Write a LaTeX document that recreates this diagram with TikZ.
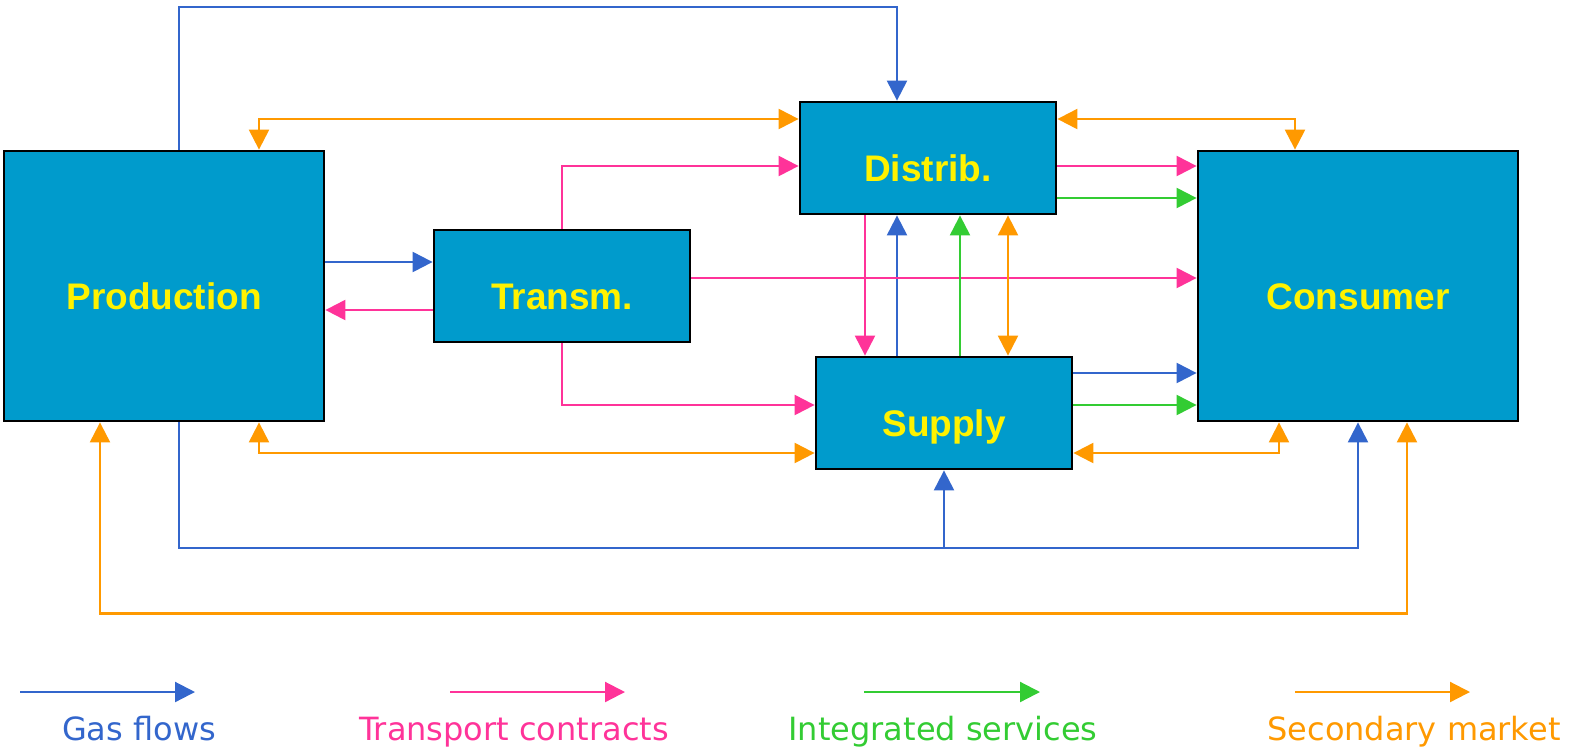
\documentclass[tikz,border=0pt]{standalone}
\usepackage{fontspec}
\setmainfont{Liberation Sans}
\newfontfamily\legendfont{DejaVu Sans}
\usetikzlibrary{arrows.meta,calc,positioning}

\definecolor{boxblue}{RGB}{0,155,204}
\definecolor{gasblue}{RGB}{51,102,204}
\definecolor{transpink}{RGB}{255,51,153}
\definecolor{integgreen}{RGB}{51,204,51}
\definecolor{mktorange}{RGB}{255,153,0}

\begin{document}
\begin{tikzpicture}[x=0.5pt, y=-0.5pt,
  box/.style={draw, rectangle, line width=1.4pt, fill=boxblue, text=yellow,
    font=\fontsize{18.5}{22}\selectfont\bfseries, text height=23.2pt, text depth=0pt, inner sep=0pt},
  bigbox/.style={box, minimum width=160pt, minimum height=135pt},
  smallbox/.style={box, minimum width=128pt, minimum height=56pt},
  flow/.style={line width=1.1pt, -{Triangle[length=10pt,width=10pt]}},
  gas/.style={flow, color=gasblue},
  trans/.style={flow, color=transpink},
  integ/.style={flow, color=integgreen},
  market/.style={line width=1.1pt, color=mktorange,
    {Triangle[length=10pt,width=10pt]}-{Triangle[length=10pt,width=10pt]}},
  legend/.style={font=\legendfont\fontsize{16}{19}\selectfont, anchor=base}]
\useasboundingbox (0,0) rectangle (1574,751);

% 五个方框
\node[bigbox] (prod) at (164,286) {Production};
\node[smallbox] (transm) at (562,286) {Transm.};
\node[smallbox] (distrib) at (928,158) {Distrib.};
\node[smallbox] (supply) at (944,413) {Supply};
\node[bigbox] (consumer) at (1358,286) {Consumer};

\coordinate (gtop) at (897,7);
\coordinate (gjoin) at (944,548);

% 天然气流 (蓝)
\draw[gas] ($(prod.north)+(15,0)$) |- (gtop) -- (distrib.north -| gtop);
\draw[gas] ($(prod.east)+(0,-24)$) -- ($(transm.west)+(0,-24)$);
\draw[gas] ($(supply.north)+(-47,0)$) -- ($(distrib.south)+(-31,0)$);
\draw[gas] ($(supply.east)+(0,-40)$) -- ($(consumer.west)+(0,87)$);
\draw[gas] ($(prod.south)+(15,0)$) |- (gjoin) -| (consumer.south);
\draw[gas] (gjoin) -- (supply.south);

% 运输合同 (粉)
\draw[trans] ($(transm.west)+(0,24)$) -- ($(prod.east)+(0,24)$);
\draw[trans] (transm.north) |- ($(distrib.west)+(0,8)$);
\draw[trans] (transm.south) |- ($(supply.west)+(0,-8)$);
\draw[trans] ($(transm.east)+(0,-8)$) -- ($(consumer.west)+(0,-8)$);
\draw[trans] ($(distrib.east)+(0,8)$) -- ($(consumer.west)+(0,-120)$);
\draw[trans] ($(distrib.south)+(-63,0)$) -- ($(supply.north)+(-79,0)$);

% 综合服务 (绿)
\draw[integ] ($(distrib.east)+(0,40)$) -- ($(consumer.west)+(0,-88)$);
\draw[integ] ($(supply.north)+(16,0)$) -- ($(distrib.south)+(32,0)$);
\draw[integ] ($(supply.east)+(0,-8)$) -- ($(consumer.west)+(0,119)$);

% 二级市场 (橙)
\draw[market] ($(prod.north)+(95,0)$) |- ($(distrib.west)+(0,-39)$);
\draw[market] ($(distrib.east)+(0,-39)$) -| ($(consumer.north)+(-63,0)$);
\draw[market] ($(distrib.south)+(80,0)$) -- ($(supply.north)+(64,0)$);
\draw[market] ($(prod.south)+(95,0)$) |- ($(supply.west)+(0,40)$);
\draw[market] ($(supply.east)+(0,40)$) -| ($(consumer.south)+(-79,0)$);
\draw[market] ($(prod.south)+(-64,0)$) -- ++(0,191) -| ($(consumer.south)+(49,0)$);

% 图例
\coordinate (gasA) at (20,692);   \coordinate (gasB) at (195,692);
\coordinate (transA) at (450,692); \coordinate (transB) at (625,692);
\coordinate (integA) at (864,692); \coordinate (integB) at (1040,692);
\coordinate (mktA) at (1295,692);  \coordinate (mktB) at (1470,692);
\draw[gas] (gasA) -- (gasB);
\draw[trans] (transA) -- (transB);
\draw[integ] (integA) -- (integB);
\draw[flow, color=mktorange] (mktA) -- (mktB);
\node[legend, text=gasblue] (gaslbl) at (139,740) {Gas flows};
\node[legend, text=transpink] (translbl) at (514,740) {Transport contracts};
\node[legend, text=integgreen] (integlbl) at (943,740) {Integrated services};
\node[legend, text=mktorange] (mktlbl) at (1414,740) {Secondary market};
\end{tikzpicture}
\end{document}
